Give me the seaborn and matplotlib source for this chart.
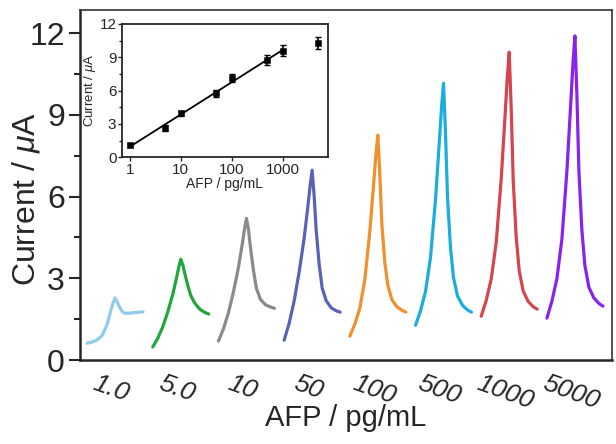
import numpy as np
import pandas as pd
import seaborn as sns
import matplotlib.pyplot as plt

# DPV peaks, one sweep per AFP concentration (local potential axis in arbitrary units)
concentrations = ['1.0', '5.0', '10', '50', '100', '500', '1000', '5000']
potential = [0, 5, 10, 15, 20, 24, 26, 28, 30, 32, 35, 38, 42, 47, 52, 56]

curve_1 = [0.62, 0.66, 0.74, 0.90, 1.30, 1.85, 2.10, 2.28, 2.15, 1.98, 1.78, 1.72, 1.72, 1.74, 1.76, 1.77]
curve_2 = [0.48, 0.80, 1.22, 1.77, 2.41, 3.06, 3.41, 3.70, 3.50, 3.18, 2.74, 2.37, 2.09, 1.87, 1.75, 1.69]
curve_3 = [0.70, 1.15, 1.74, 2.50, 3.40, 4.30, 4.80, 5.20, 4.80, 4.14, 3.29, 2.63, 2.23, 2.03, 1.95, 1.90]
curve_4 = [0.73, 1.35, 2.17, 3.23, 4.47, 5.72, 6.41, 6.97, 6.03, 4.78, 3.53, 2.65, 2.18, 1.92, 1.81, 1.76]
curve_5 = [0.88, 1.32, 1.91, 2.95, 4.72, 6.56, 7.52, 8.26, 6.83, 5.01, 3.58, 2.74, 2.22, 1.96, 1.83, 1.76]
curve_6 = [1.28, 1.81, 2.52, 3.77, 5.90, 8.12, 9.27, 10.16, 8.31, 5.96, 4.11, 3.02, 2.35, 2.01, 1.84, 1.76]
curve_7 = [1.61, 2.19, 2.97, 4.32, 6.65, 9.07, 10.33, 11.30, 9.23, 6.59, 4.51, 3.28, 2.53, 2.15, 1.96, 1.87]
curve_8 = [1.54, 2.16, 2.99, 4.44, 6.93, 9.52, 10.86, 11.90, 9.72, 6.94, 4.76, 3.47, 2.67, 2.28, 2.08, 1.98]
curves = [curve_1, curve_2, curve_3, curve_4, curve_5, curve_6, curve_7, curve_8]

colors = ['#8ecbee', '#22a53c', '#8a8a8a', '#5a62b8', '#f0902e', '#1badde', '#d6454f', '#8a22ee']

# calibration inset
afp = [1, 5, 10, 50, 100, 500, 1000, 5000]
peak_current = [1.08, 2.65, 3.94, 5.75, 7.10, 8.75, 9.60, 10.30]
peak_err = [0.15, 0.25, 0.20, 0.30, 0.35, 0.45, 0.50, 0.55]

plt.rcParams['mathtext.fontset'] = 'custom'
plt.rcParams['mathtext.rm'] = 'Liberation Sans'
plt.rcParams['mathtext.it'] = 'Liberation Sans:italic'


def main():
    sns.set_style('ticks')
    plt.rcParams['font.family'] = ['Liberation Sans', 'DejaVu Sans']

    spacing = 65.7
    rows = []
    for i, (conc, ys) in enumerate(zip(concentrations, curves)):
        for p, y in zip(potential, ys):
            rows.append({'x': 7 + i * spacing + p, 'current': y, 'conc': conc})
    df = pd.DataFrame(rows)

    fig = plt.figure(figsize=(6.16, 4.44), dpi=100)
    ax = fig.add_axes([0.130, 0.189, 0.8635, 0.7885])
    sns.lineplot(data=df, x='x', y='current', hue='conc', palette=colors,
                 sort=False, lw=2.3, legend=False, ax=ax)
    ax.set_xlim(0, 532)
    ax.set_ylim(0, 12.85)
    ax.set_yticks([0, 3, 6, 9, 12])
    ax.set_yticks(np.arange(1.5, 12, 3), minor=True)
    ax.tick_params(axis='y', which='major', direction='out', length=8, width=1.5, labelsize=23, pad=3)
    ax.tick_params(axis='y', which='minor', direction='out', length=4, width=1.5)
    centers = [7 + i * spacing + 24 for i in range(len(concentrations))]
    ax.set_xticks(centers)
    ax.set_xticklabels(concentrations, rotation=-20, fontsize=19, style='italic')
    ax.tick_params(axis='x', length=0, pad=8)
    ax.set_xlabel('AFP / pg/mL', fontsize=21)
    ax.xaxis.set_label_coords(0.5, -0.125)
    ax.set_ylabel('Current / $\\mu$A', fontsize=23)
    ax.yaxis.set_label_coords(-0.072, 0.46)
    for s in ['left', 'bottom']:
        ax.spines[s].set_linewidth(1.8)
    for s in ['right', 'top']:
        ax.spines[s].set_linewidth(1.2)
        ax.spines[s].set_color('#333333')

    # inset calibration curve
    ins = fig.add_axes([0.198, 0.646, 0.334, 0.300])
    ins.errorbar(afp, peak_current, yerr=peak_err, fmt='none', ecolor='black',
                 elinewidth=1.2, capsize=2.5)
    sns.scatterplot(x=afp, y=peak_current, marker='s', s=22, color='black',
                    edgecolor='black', ax=ins, zorder=3)
    sns.regplot(x=afp[:7], y=peak_current[:7], logx=True, ci=None, scatter=False,
                line_kws={'color': 'black', 'lw': 1.3}, ax=ins)
    ins.set_xscale('log')
    ins.set_xlim(0.7, 7600)
    ins.set_ylim(0, 12)
    ins.set_xticks([1, 10, 100, 1000])
    ins.set_xticklabels(['1', '10', '100', '1000'])
    ins.set_xticks([], minor=True)
    ins.set_yticks([0, 3, 6, 9, 12])
    ins.set_yticks(np.arange(1.5, 12, 3), minor=True)
    ins.tick_params(axis='both', which='major', direction='out', length=3, width=1, labelsize=11, pad=1)
    ins.tick_params(axis='y', which='minor', direction='out', length=2, width=1)
    ins.set_xlabel('AFP / pg/mL', fontsize=10, labelpad=0)
    ins.set_ylabel('Current / $\\mu$A', fontsize=9.5, labelpad=1)
    for s in ins.spines.values():
        s.set_linewidth(1.3)

    fig.savefig('out.png', dpi=100)


if __name__ == '__main__':
    main()
